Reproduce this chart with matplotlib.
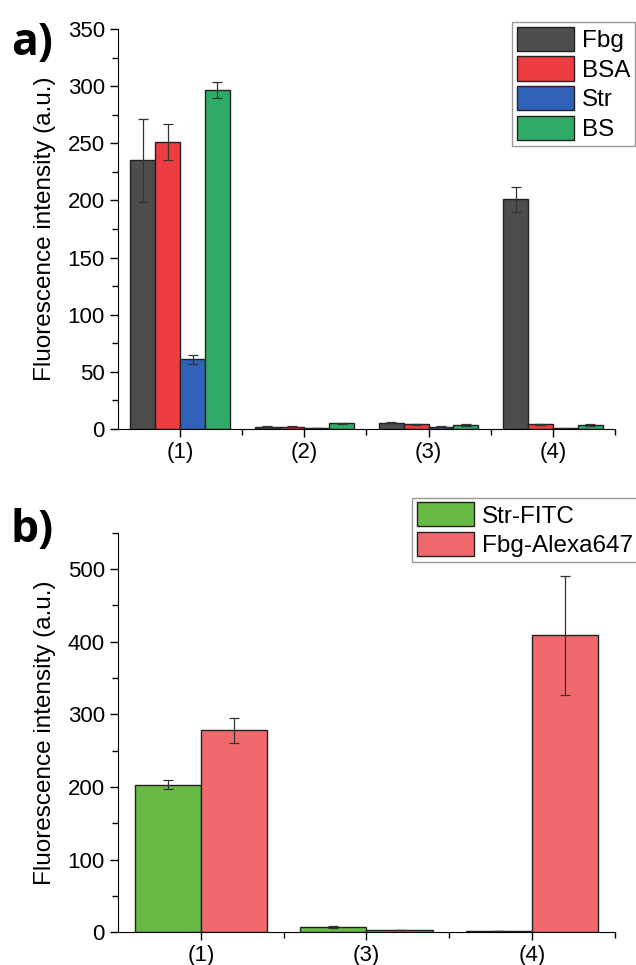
import numpy as np
import matplotlib
matplotlib.use("Agg")
import matplotlib.pyplot as plt
from matplotlib.ticker import AutoMinorLocator, FixedLocator

plt.rcParams["font.family"] = ["Liberation Sans", "DejaVu Sans"]

# Panel a) data
GROUPS_A = ["(1)", "(2)", "(3)", "(4)"]
SERIES_A = ["Fbg", "BSA", "Str", "BS"]
FBG = [235, 2, 5.5, 201]
BSA = [251, 2, 4, 4]
STR = [61, 1, 2, 0.5]
BS = [297, 5, 3.5, 3.5]
FBG_ERR = [36, 0.5, 0.5, 11]
BSA_ERR = [16, 0.5, 0.5, 0.5]
STR_ERR = [4, 0.3, 0.3, 0.3]
BS_ERR = [7, 0.5, 1, 1]
COLORS_A = ["#4d4d4d", "#ee3d40", "#2f62b8", "#2eab66"]

# Panel b) data
GROUPS_B = ["(1)", "(3)", "(4)"]
SERIES_B = ["Str-FITC", "Fbg-Alexa647"]
STR_FITC = [203, 7, 1.5]
FBG_ALEXA = [278, 3, 409]
STR_FITC_ERR = [6, 1, 0.3]
FBG_ALEXA_ERR = [17, 0.5, 82]
COLORS_B = ["#67bb44", "#f0696d"]

ERR_KW = dict(ecolor="#333333", elinewidth=0.9, capsize=3.6, capthick=0.9)
LEG_KW = dict(loc="upper right", fontsize=17.5, handlelength=2.35,
              handleheight=1.15, labelspacing=0.18, handletextpad=0.3,
              borderpad=0.2, borderaxespad=0, fancybox=False,
              framealpha=1, edgecolor="#999999")


def style_axes(ax):
    ax.spines["top"].set_visible(False)
    ax.spines["right"].set_visible(False)
    ax.tick_params(axis="both", which="major", direction="out", length=6,
                   width=1, labelsize=16)
    ax.tick_params(axis="both", which="minor", direction="out", length=4,
                   width=1)
    ax.yaxis.set_minor_locator(AutoMinorLocator(2))
    ax.set_ylabel("Fluorescence intensity (a.u.)", fontsize=17.5, labelpad=8)


fig = plt.figure(figsize=(6.36, 9.65), dpi=100)

# ---- panel a ----
axA = fig.add_axes([0.1855, 0.5554, 0.7815, 0.4146])
x = np.arange(1, len(GROUPS_A) + 1)
w = 0.2
vals = [FBG, BSA, STR, BS]
errs = [FBG_ERR, BSA_ERR, STR_ERR, BS_ERR]
for i, (name, v, e, c) in enumerate(zip(SERIES_A, vals, errs, COLORS_A)):
    axA.bar(x + (i - 1.5) * w, v, w, yerr=e, color=c, edgecolor="#222222",
            linewidth=1, label=name, error_kw=ERR_KW)
axA.set_xlim(0.5, 4.5)
axA.set_ylim(0, 350)
axA.set_yticks(np.arange(0, 351, 50))
axA.set_xticks(x)
axA.set_xticklabels(GROUPS_A)
axA.xaxis.set_minor_locator(FixedLocator(np.arange(1.5, 4.6, 1)))
style_axes(axA)
axA.legend(bbox_to_anchor=(1.04, 1.0175), **LEG_KW)
fig.text(0.018, 0.978, "a)", fontsize=32, fontweight="bold",
         family=["Open Sans", "DejaVu Sans"], va="top", ha="left")

# ---- panel b ----
axB = fig.add_axes([0.1855, 0.0339, 0.7815, 0.4141])
xb = np.arange(1, len(GROUPS_B) + 1)
wb = 0.4
vals_b = [STR_FITC, FBG_ALEXA]
errs_b = [STR_FITC_ERR, FBG_ALEXA_ERR]
for i, (name, v, e, c) in enumerate(zip(SERIES_B, vals_b, errs_b, COLORS_B)):
    axB.bar(xb + (i - 0.5) * wb, v, wb, yerr=e, color=c, edgecolor="#222222",
            linewidth=1, label=name, error_kw=ERR_KW)
axB.set_xlim(0.5, 3.5)
axB.set_ylim(0, 550)
axB.set_yticks(np.arange(0, 501, 100))
axB.set_xticks(xb)
axB.set_xticklabels(GROUPS_B)
axB.xaxis.set_minor_locator(FixedLocator(np.arange(1.5, 3.6, 1)))
style_axes(axB)
axB.legend(bbox_to_anchor=(1.045, 1.088), **LEG_KW)
fig.text(0.016, 0.474, "b)", fontsize=32, fontweight="bold",
         family=["Open Sans", "DejaVu Sans"], va="top", ha="left")

fig.savefig("out.png", dpi=100)
